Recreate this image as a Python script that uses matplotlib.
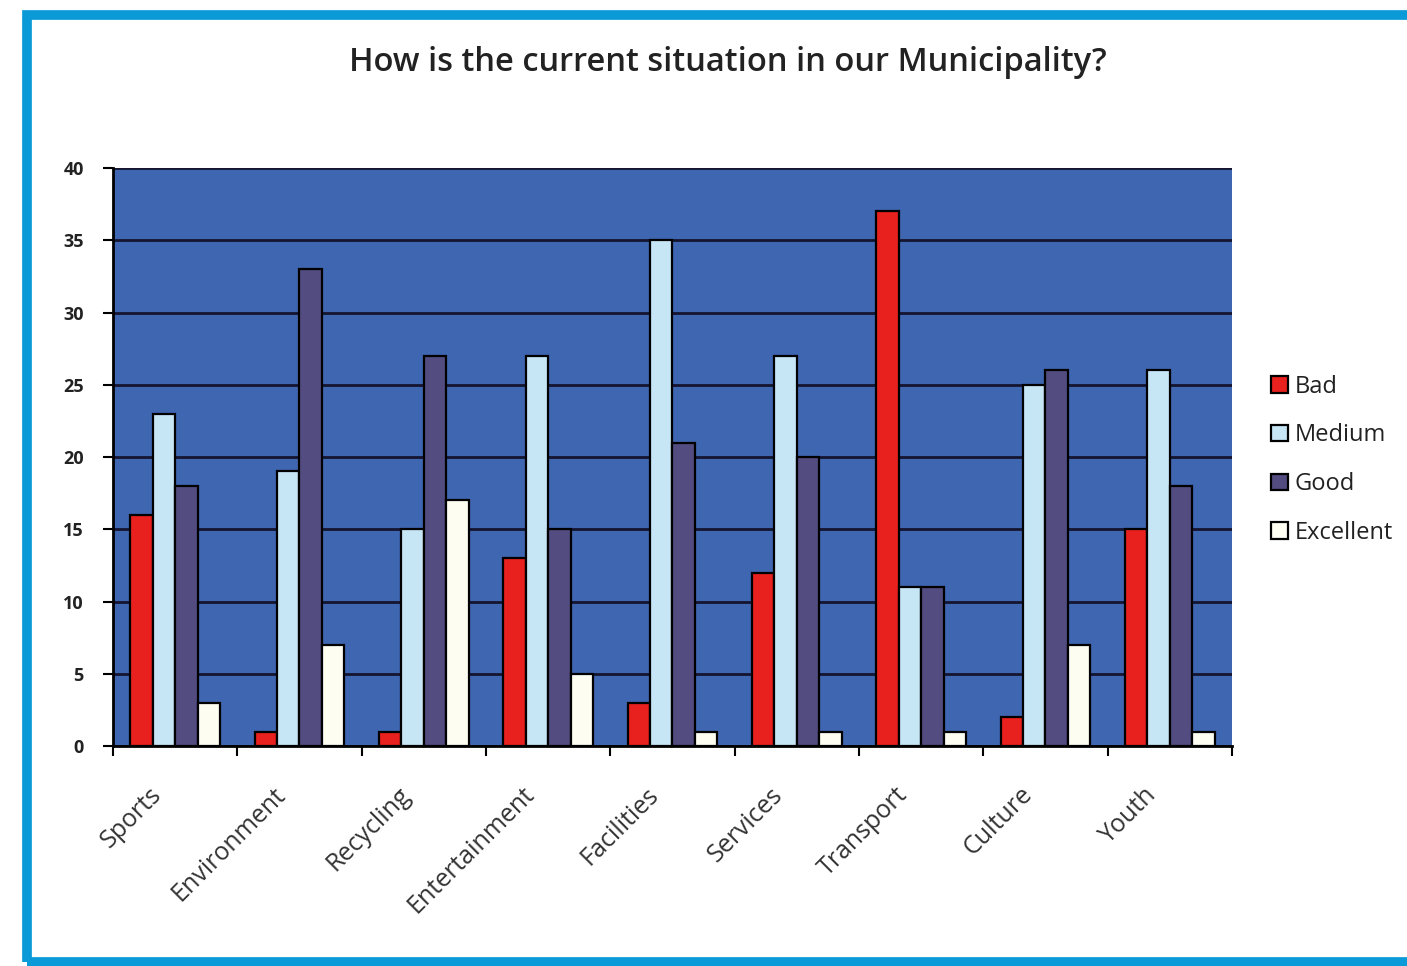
import matplotlib
matplotlib.use('Agg')
import matplotlib.pyplot as plt
import matplotlib.transforms as mtrans
import numpy as np
from matplotlib.patches import Rectangle

plt.rcParams['font.family'] = ['Open Sans', 'DejaVu Sans']

categories = ['Sports', 'Environment', 'Recycling', 'Entertainment', 'Facilities',
              'Services', 'Transport', 'Culture', 'Youth']
series_names = ['Bad', 'Medium', 'Good', 'Excellent']
bad = [16, 1, 1, 13, 3, 12, 37, 2, 15]
medium = [23, 19, 15, 27, 35, 27, 11, 25, 26]
good = [18, 33, 27, 15, 21, 20, 11, 26, 18]
excellent = [3, 7, 17, 5, 1, 1, 1, 7, 1]
yticks = [0, 5, 10, 15, 20, 25, 30, 35, 40]

colors = ['#e8201e', '#c6e6f6', '#524c80', '#fdfdf2']

fig = plt.figure(figsize=(14.07, 9.66), dpi=100)
fig.patch.set_facecolor('white')

# blue outer frame
fig.patches.append(Rectangle((0.019, 0.004), 1.2, 0.98, transform=fig.transFigure,
                             fill=False, edgecolor='#0a9ad8', linewidth=7, zorder=0))

ax = fig.add_axes([0.0803, 0.2277, 0.7953, 0.5984])
ax.set_facecolor('#3f66b0')

x = np.arange(len(categories))
w = 0.18
data = [bad, medium, good, excellent]
for i, (name, vals) in enumerate(zip(series_names, data)):
    ax.bar(x + (i - 1.5) * w, vals, width=w, color=colors[i], edgecolor='black',
           linewidth=1.6, label=name, zorder=3)

ax.set_xlim(-0.5, len(categories) - 0.5)
ax.set_ylim(0, 40)
ax.set_yticks(yticks)
ax.set_yticklabels([str(v) for v in yticks], fontsize=13, fontweight='bold', color='#222222')
ax.yaxis.grid(True, color='#151530', linewidth=2, zorder=1)
ax.set_axisbelow(True)

# ticks between categories
ax.set_xticks(np.arange(len(categories) + 1) - 0.5)
ax.set_xticklabels([])
ax.set_xticks(x, minor=True)
ax.set_xticklabels(categories, minor=True, rotation=45, ha='right', va='top',
                   rotation_mode='anchor', fontsize=18, color='#333333')
ax.tick_params(axis='x', which='minor', length=0, pad=26)
ax.tick_params(axis='x', which='major', length=7, width=1.5, direction='out')
ax.tick_params(axis='y', length=7, width=1.5, direction='out', pad=14)
shift = mtrans.ScaledTranslation(-26 / 100, 0, fig.dpi_scale_trans)
for lbl in ax.get_xticklabels(minor=True):
    lbl.set_transform(lbl.get_transform() + shift)

for s in ['top', 'right']:
    ax.spines[s].set_visible(False)
ax.spines['left'].set_linewidth(2)
ax.spines['bottom'].set_linewidth(2)

fig.text(0.517, 0.935, 'How is the current situation in our Municipality?',
         ha='center', va='center', fontsize=23.5, fontweight='semibold', color='#222222')

leg = ax.legend(loc='center left', bbox_to_anchor=(0.895, 0.524), bbox_transform=fig.transFigure,
                frameon=False, fontsize=17, handlelength=0.7, handleheight=0.7,
                handletextpad=0.3, labelspacing=1.05, borderpad=0)
for t in leg.get_texts():
    t.set_color('#222222')

fig.savefig('out.png', dpi=100)
